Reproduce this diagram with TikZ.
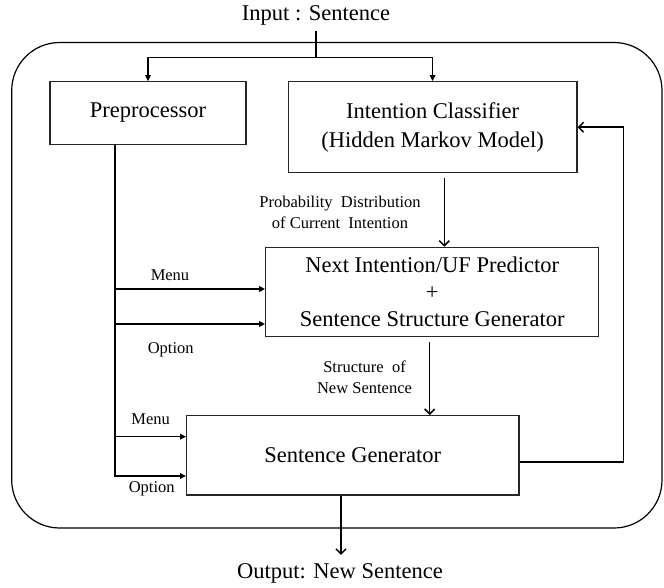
\documentclass[tikz,border=0pt]{standalone}
\usepackage{fontspec}
\setmainfont{Liberation Serif}
\usetikzlibrary{arrows.meta,calc}
\newcommand\bigtxt{\fontsize{22.5}{27}\selectfont}
\newcommand\smalltxt{\fontsize{16.5}{21.5}\selectfont}
\tikzset{
  box/.style={draw=black!85,line width=1.2pt,inner sep=2pt,align=center,font=\bigtxt},
  conn/.style={line width=1.5pt,black},
  tri/.style={-{Triangle[length=6pt,width=5.5pt]}},
  barb/.style={-{Straight Barb[length=5pt,width=10pt]}},
  lbl/.style={font=\smalltxt,align=center,inner sep=1pt},
  frame/.style={draw=black,line width=1.2pt,rounded corners=48pt}
}
\begin{document}
\begin{tikzpicture}[x=1pt,y=-1pt]
\useasboundingbox (0,0) rectangle (664,588);
% outer frame
\draw[frame] (11.7,42.5) rectangle (662,528);
% texts
\node[font=\bigtxt,inner sep=2pt] (in) at (316,15) {Input : Sentence};
\node[font=\bigtxt,inner sep=2pt] (out) at (340,573) {Output: New Sentence};
% boxes
\node[box,minimum width=196pt,minimum height=62.3pt] (pre) at (148,113) {Preprocessor};
\node[box,minimum width=288.7pt,minimum height=91pt,font=\fontsize{22.5}{29}\selectfont] (ic) at (432.6,127.2) {Intention Classifier\\(Hidden Markov Model)};
\node[box,minimum width=333pt,minimum height=89.4pt,font=\fontsize{22.5}{26.7}\selectfont] (ni) at (432.2,292) {Next Intention/UF Predictor\\+\\Sentence Structure Generator};
\node[box,minimum width=332.3pt,minimum height=79.3pt] (sg) at (352.8,455.3) {Sentence Generator};
% labels
\node[lbl] (lprob) at (340,212.5) {Probability\ \ Distribution\\of Current\ \ Intention};
\node[lbl] (lstruct) at (364.5,377.5) {Structure\ \ of\\New Sentence};
\node[lbl] (lmenu1) at (170,275) {Menu};
\node[lbl] (lopt1) at (170.7,350) {Option};
\node[lbl] (lmenu2) at (150.7,419) {Menu};
\node[lbl] (lopt2) at (151.7,489) {Option};
% input split
\coordinate (split) at (316,57.3);
\draw[conn] ($(in.south)+(0,4)$) -- (split);
\draw[conn,tri] (split) -| (pre.north);
\draw[conn,tri] (split) -| (ic.north);
% preprocessor trunk
\coordinate (trunk) at ($(pre.south)+(-33,0)$);
\coordinate (niM) at ($(ni.west)+(0,-3)$);
\coordinate (niO) at ($(ni.west)+(0,32)$);
\coordinate (sgM) at ($(sg.west)+(0,-18.6)$);
\coordinate (sgO) at ($(sg.west)+(0,20.7)$);
\draw[conn,tri] (trunk) |- (sgO);
\draw[conn,tri] (trunk |- niM) -- (niM);
\draw[conn,tri] (trunk |- niO) -- (niO);
\draw[conn,tri] (trunk |- sgM) -- (sgM);
% IC -> NI
\draw[conn,barb] ($(ic.south)+(11.7,5)$) -- ($(ni.north)+(12.1,0)$);
% NI -> SG
\coordinate (nis) at ($(ni.south)+(-2.5,5)$);
\draw[conn,barb] (nis) -- (nis |- sg.north);
% SG -> output
\coordinate (sgs) at ($(sg.south)+(-11.8,0)$);
\draw[conn,barb] (sgs) -- ($(sgs |- out.north)+(0,-6)$);
% feedback
\draw[conn,barb] ($(sg.east)+(0,6.7)$) -- ++(104,0) |- (ic.east);
\end{tikzpicture}
\end{document}
